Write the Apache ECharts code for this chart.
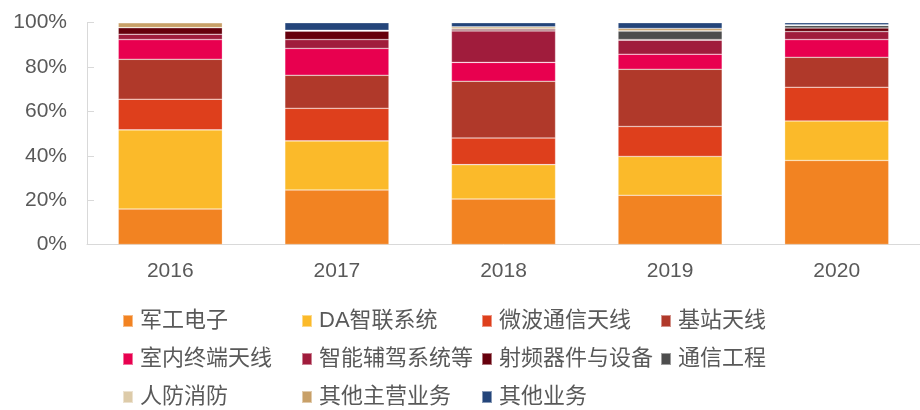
<!DOCTYPE html>
<html>
<head>
<meta charset="utf-8">
<title>业务收入结构</title>
<script src="https://cdn.jsdelivr.net/npm/echarts@6/dist/echarts.min.js"></script>
<style>
  html, body { margin: 0; padding: 0; background: #fff; }
  .chart { width: 920px; height: 410px; }
</style>
</head>
<body>
<div class="chart"></div>
<script>
// 年份
var years = ['2016', '2017', '2018', '2019', '2020'];
// 各业务名称（从下往上堆叠）
var names = ['军工电子', 'DA智联系统', '微波通信天线', '基站天线', '室内终端天线', '智能辅驾系统等', '射频器件与设备', '通信工程', '人防消防', '其他主营业务', '其他业务'];
// 各业务占比（%）
var junGong   = [16.0, 24.6, 20.5, 22.2, 37.9];
var daZhiLian = [35.7, 22.1, 15.5, 17.5, 17.8];
var weiBo     = [13.8, 14.7, 12.0, 13.5, 15.2];
var jiZhan    = [18.0, 14.9, 25.6, 25.8, 13.5];
var shiNei    = [8.9, 12.1, 8.5, 6.8, 8.0];
var zhiNeng   = [2.4, 4.0, 14.2, 6.3, 3.6];
var shePin    = [3.0, 3.9, 0.9, 0.3, 1.6];
var tongXin   = [0, 0, 0, 3.9, 1.2];
var renFang   = [0, 0, 0, 0, 0];
var qiTaZhu   = [2.2, 0.3, 0.9, 1.1, 0.2];
var qiTa      = [0, 3.4, 1.9, 2.6, 1.0];
// y轴刻度
var yTicks = [0, 20, 40, 60, 80, 100];

(function () {
  var myChart = echarts.init(document.querySelector('.chart'));

  var values = [junGong, daZhiLian, weiBo, jiZhan, shiNei, zhiNeng, shePin, tongXin, renFang, qiTaZhu, qiTa];
  var colors = ['#F28322', '#FBBA2A', '#DE3F1C', '#B0392A', '#E8004F', '#A01C3C', '#66000C', '#4D4D4D', '#DDCBA9', '#C8A068', '#24457A'];
  var font = "'Liberation Sans', 'Noto Sans CJK SC', sans-serif";

  // 图例：四列排布，每项单独定位
  var colX = [122, 301, 481, 660];
  var rowY = [310, 348, 386];
  var legends = names.map(function (n, i) {
    return {
      data: [n],
      left: colX[i % 4],
      top: rowY[Math.floor(i / 4)],
      padding: 0,
      itemWidth: 10,
      itemHeight: 12,
      icon: 'rect',
      selectedMode: false,
      textStyle: {
        color: '#595959',
        fontSize: 22,
        fontFamily: font,
        padding: [0, 0, 0, 2]
      }
    };
  });

  var series = names.map(function (n, i) {
    return {
      name: n,
      type: 'bar',
      stack: 'total',
      barWidth: '62.5%',
      data: values[i],
      itemStyle: {
        color: colors[i],
        borderColor: 'rgba(255,255,255,0.45)',
        borderWidth: 0.6
      }
    };
  });

  var option = {
    animation: false,
    color: colors,
    legend: legends,
    grid: {
      left: 87,
      top: 22.7,
      width: 842,
      height: 221.8,
      containLabel: false
    },
    xAxis: {
      type: 'category',
      data: years,
      axisTick: { show: false },
      axisLine: { lineStyle: { color: '#D9D9D9', width: 1 } },
      axisLabel: {
        color: '#595959',
        fontSize: 21,
        fontFamily: font,
        margin: 16
      }
    },
    yAxis: {
      type: 'value',
      min: yTicks[0],
      max: yTicks[yTicks.length - 1],
      interval: yTicks[1] - yTicks[0],
      axisLine: { show: true, lineStyle: { color: '#D9D9D9', width: 1 } },
      axisTick: { show: true, inside: true, length: 7, lineStyle: { color: '#D9D9D9' } },
      splitLine: { show: false },
      axisLabel: {
        color: '#595959',
        fontSize: 21,
        fontFamily: font,
        margin: 20,
        formatter: '{value}%'
      }
    },
    series: series
  };

  myChart.setOption(option);
  window.addEventListener('resize', function () {
    myChart.resize();
  });
})();
</script>
</body>
</html>
